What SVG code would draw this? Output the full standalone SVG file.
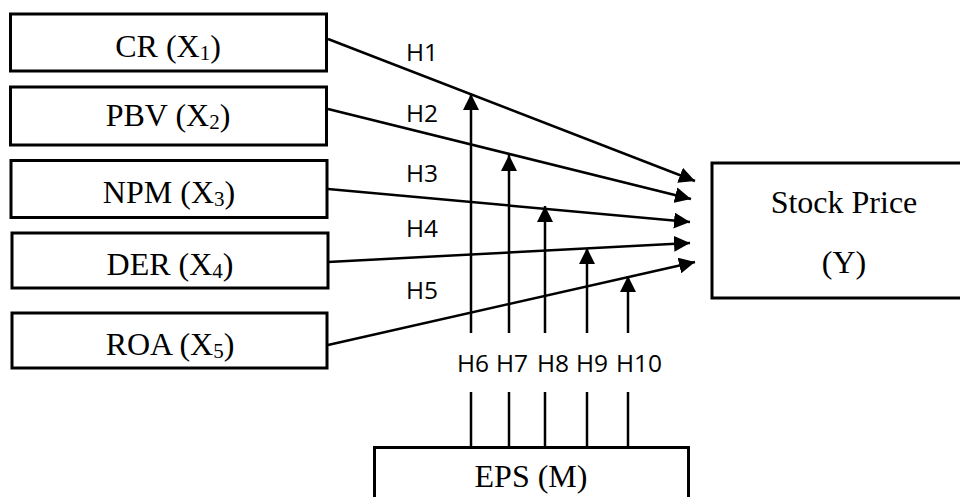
<svg xmlns="http://www.w3.org/2000/svg" width="960" height="497" viewBox="0 0 960 497">
<style>
.box{fill:#fff;stroke:#000;stroke-width:3}
.t{font-family:"Liberation Serif","Times New Roman",serif;font-size:32px;fill:#000;text-anchor:middle}
.sub{font-size:21px}
.h{font-family:"Open Sans","Liberation Sans",sans-serif;font-size:24.5px;fill:#000}
.ln{stroke:#000;stroke-width:2.5;fill:none}
</style>
<defs>
<marker id="ah" markerUnits="userSpaceOnUse" markerWidth="16" markerHeight="16" viewBox="0 0 14 14" refX="14" refY="7" orient="auto">
<path d="M0,0 L14,7 L0,14 Z" fill="#000"/>
</marker>
</defs>
<rect width="960" height="497" fill="#fff"/>
<g id="cr"><rect class="box" x="10.5" y="14" width="316" height="57"/><text class="t" x="168" y="57">CR (X<tspan class="sub" dy="3">1</tspan><tspan dy="-3">)</tspan></text></g>
<g id="pbv"><rect class="box" x="10.5" y="87" width="316" height="58"/><text class="t" x="168" y="126">PBV (X<tspan class="sub" dy="3">2</tspan><tspan dy="-3">)</tspan></text></g>
<g id="npm"><rect class="box" x="11" y="160.5" width="316" height="57"/><text class="t" x="169" y="203">NPM (X<tspan class="sub" dy="3">3</tspan><tspan dy="-3">)</tspan></text></g>
<g id="der"><rect class="box" x="12" y="233" width="316" height="55"/><text class="t" x="170" y="275">DER (X<tspan class="sub" dy="3">4</tspan><tspan dy="-3">)</tspan></text></g>
<g id="roa"><rect class="box" x="12" y="313" width="315" height="55"/><text class="t" x="170" y="355">ROA (X<tspan class="sub" dy="3">5</tspan><tspan dy="-3">)</tspan></text></g>
<g id="stock"><rect class="box" x="712" y="163" width="270" height="135"/><text class="t" x="844" y="213">Stock Price</text><text class="t" x="844" y="273">(Y)</text></g>
<g id="eps"><rect class="box" x="374.5" y="447.5" width="314" height="70"/><text class="t" x="531" y="487">EPS (M)</text></g>
<g id="connectors">
<line class="ln" x1="328" y1="39" x2="695" y2="181" marker-end="url(#ah)"/>
<line class="ln" x1="328" y1="109" x2="691" y2="199" marker-end="url(#ah)"/>
<line class="ln" x1="328" y1="189" x2="690" y2="222" marker-end="url(#ah)"/>
<line class="ln" x1="328" y1="262" x2="690" y2="243" marker-end="url(#ah)"/>
<line class="ln" x1="328" y1="345" x2="695" y2="262" marker-end="url(#ah)"/>
<line class="ln" x1="471" y1="333" x2="471" y2="94" marker-end="url(#ah)"/>
<line class="ln" x1="509" y1="333" x2="509" y2="155" marker-end="url(#ah)"/>
<line class="ln" x1="545" y1="333" x2="545" y2="206" marker-end="url(#ah)"/>
<line class="ln" x1="587" y1="333" x2="587" y2="248" marker-end="url(#ah)"/>
<line class="ln" x1="628" y1="333" x2="628" y2="276" marker-end="url(#ah)"/>
<line class="ln" x1="471" y1="392" x2="471" y2="447"/>
<line class="ln" x1="509" y1="392" x2="509" y2="447"/>
<line class="ln" x1="545" y1="392" x2="545" y2="447"/>
<line class="ln" x1="587" y1="392" x2="587" y2="447"/>
<line class="ln" x1="628" y1="392" x2="628" y2="447"/>
</g>
<g id="labels">
<text class="h" x="406" y="61">H1</text>
<text class="h" x="406" y="122">H2</text>
<text class="h" x="406" y="182">H3</text>
<text class="h" x="406" y="237">H4</text>
<text class="h" x="406" y="299">H5</text>
<text class="h" y="372"><tspan x="457">H6</tspan><tspan x="496">H7</tspan><tspan x="537">H8</tspan><tspan x="576">H9</tspan><tspan x="616">H10</tspan></text>
</g>
</svg>
